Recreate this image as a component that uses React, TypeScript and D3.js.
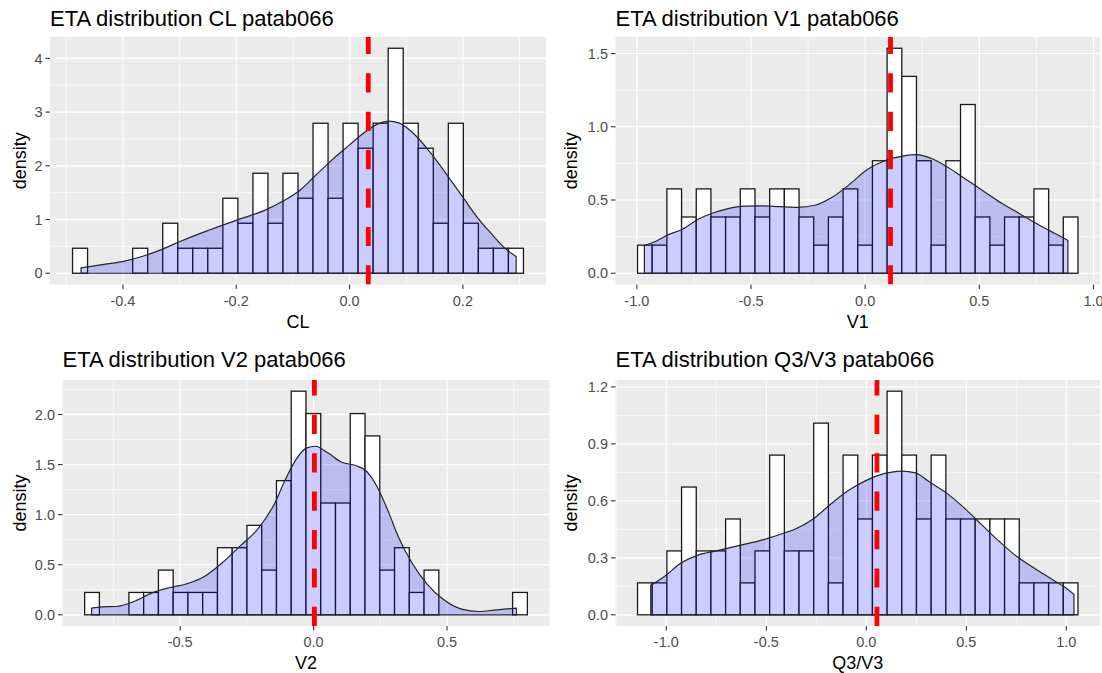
import React from "react";
import * as d3 from "d3";

// Number of subjects behind every histogram (density = count / (n * binwidth)).
const SAMPLE_SIZE = 81;

// ---- ETA CL ----
const clCounts = [1, 0, 0, 0, 1, 0, 2, 1, 1, 1, 3, 2, 4, 2, 4, 3, 6, 3, 6, 5, 6, 9, 6, 5, 2, 6, 2, 1, 1, 1];
const clBinStart = -0.489;
const clBinWidth = 0.02653;
const clMean = 0.033;
const clDensity: [number, number][] = [
  [-0.474, 0.1], [-0.436, 0.16], [-0.399, 0.22], [-0.361, 0.33], [-0.33, 0.45], [-0.293, 0.62],
  [-0.249, 0.8], [-0.199, 0.99], [-0.15, 1.17], [-0.118, 1.34], [-0.087, 1.55], [-0.062, 1.8],
  [-0.031, 2.11], [0.0, 2.39], [0.025, 2.61], [0.05, 2.78], [0.069, 2.83], [0.087, 2.8],
  [0.112, 2.61], [0.143, 2.24], [0.174, 1.8], [0.199, 1.43], [0.224, 1.06], [0.249, 0.75],
  [0.274, 0.47], [0.294, 0.31],
];
const clXTicks = [-0.4, -0.2, 0, 0.2];
const clXLabels = ["-0.4", "-0.2", "0.0", "0.2"];
const clYTicks = [0, 1, 2, 3, 4];
const clYLabels = ["0", "1", "2", "3", "4"];

// ---- ETA V1 ----
const v1Counts = [1, 1, 3, 2, 3, 2, 2, 3, 2, 3, 3, 2, 1, 2, 3, 1, 4, 8, 7, 4, 1, 4, 6, 2, 1, 2, 2, 3, 1, 2];
const v1BinStart = -0.997;
const v1BinWidth = 0.0643;
const v1Mean = 0.111;
const v1Density: [number, number][] = [
  [-0.967, 0.19], [-0.914, 0.22], [-0.867, 0.26], [-0.8, 0.3], [-0.73, 0.37], [-0.67, 0.41],
  [-0.604, 0.44], [-0.528, 0.458], [-0.451, 0.46], [-0.374, 0.455], [-0.297, 0.45],
  [-0.22, 0.464], [-0.143, 0.52], [-0.066, 0.61], [0.011, 0.71], [0.088, 0.77], [0.165, 0.8],
  [0.226, 0.81], [0.288, 0.785], [0.365, 0.72], [0.442, 0.64], [0.519, 0.56], [0.596, 0.48],
  [0.673, 0.41], [0.75, 0.34], [0.827, 0.275], [0.888, 0.225],
];
const v1XTicks = [-1, -0.5, 0, 0.5, 1];
const v1XLabels = ["-1.0", "-0.5", "0.0", "0.5", "1.0"];
const v1YTicks = [0, 0.5, 1, 1.5];
const v1YLabels = ["0.0", "0.5", "1.0", "1.5"];

// ---- ETA V2 ----
const v2Counts = [1, 0, 0, 1, 1, 2, 1, 1, 1, 3, 3, 4, 2, 6, 10, 9, 5, 5, 9, 8, 2, 3, 1, 2, 0, 0, 0, 0, 0, 1];
const v2BinStart = -0.858;
const v2BinWidth = 0.0553;
const v2Mean = 0.003;
const v2Density: [number, number][] = [
  [-0.832, 0.067], [-0.792, 0.08], [-0.739, 0.083], [-0.673, 0.133], [-0.607, 0.217],
  [-0.541, 0.27], [-0.475, 0.31], [-0.409, 0.383], [-0.343, 0.517], [-0.277, 0.683],
  [-0.211, 0.85], [-0.145, 1.117], [-0.106, 1.35], [-0.066, 1.55], [-0.026, 1.667],
  [0.007, 1.683], [0.053, 1.617], [0.106, 1.523], [0.158, 1.49], [0.198, 1.433],
  [0.237, 1.283], [0.277, 1.05], [0.317, 0.783], [0.369, 0.517], [0.422, 0.317],
  [0.488, 0.15], [0.554, 0.057], [0.62, 0.033], [0.686, 0.05], [0.76, 0.067],
];
const v2XTicks = [-0.5, 0, 0.5];
const v2XLabels = ["-0.5", "0.0", "0.5"];
const v2YTicks = [0, 0.5, 1, 1.5, 2];
const v2YLabels = ["0.0", "0.5", "1.0", "1.5", "2.0"];

// ---- ETA Q3/V3 ----
const q3Counts = [1, 1, 2, 4, 2, 2, 3, 1, 2, 5, 2, 2, 6, 1, 5, 3, 5, 7, 5, 3, 5, 3, 3, 3, 3, 3, 1, 1, 1, 1];
const q3BinStart = -1.144;
const q3BinWidth = 0.0734;
const q3Mean = 0.053;
const q3Density: [number, number][] = [
  [-1.078, 0.155], [-1.003, 0.207], [-0.932, 0.269], [-0.844, 0.313], [-0.739, 0.339],
  [-0.633, 0.366], [-0.528, 0.392], [-0.422, 0.427], [-0.352, 0.453], [-0.264, 0.506],
  [-0.176, 0.585], [-0.088, 0.656], [0.0, 0.708], [0.088, 0.743], [0.176, 0.757],
  [0.246, 0.747], [0.317, 0.699], [0.405, 0.638], [0.493, 0.559], [0.58, 0.471],
  [0.668, 0.383], [0.756, 0.304], [0.844, 0.243], [0.932, 0.185], [1.003, 0.137],
  [1.038, 0.107],
];
const q3XTicks = [-1, -0.5, 0, 0.5, 1];
const q3XLabels = ["-1.0", "-0.5", "0.0", "0.5", "1.0"];
const q3YTicks = [0, 0.3, 0.6, 0.9, 1.2];
const q3YLabels = ["0.0", "0.3", "0.6", "0.9", "1.2"];

type PanelData = {
  id: string;
  title: string;
  xTitle: string;
  counts: number[];
  binStart: number;
  binWidth: number;
  mean: number;
  density: [number, number][];
  xTicks: number[];
  xLabels: string[];
  yTicks: number[];
  yLabels: string[];
};

type Box = { plotX: number; left: number; right: number; top: number; bottom: number; titleY: number };

const panels: { data: PanelData; box: Box }[] = [
  {
    data: {
      id: "cl", title: "ETA distribution CL patab066", xTitle: "CL",
      counts: clCounts, binStart: clBinStart, binWidth: clBinWidth, mean: clMean, density: clDensity,
      xTicks: clXTicks, xLabels: clXLabels, yTicks: clYTicks, yLabels: clYLabels,
    },
    box: { plotX: 0, left: 50, right: 546, top: 37, bottom: 284.5, titleY: 26 },
  },
  {
    data: {
      id: "v1", title: "ETA distribution V1 patab066", xTitle: "V1",
      counts: v1Counts, binStart: v1BinStart, binWidth: v1BinWidth, mean: v1Mean, density: v1Density,
      xTicks: v1XTicks, xLabels: v1XLabels, yTicks: v1YTicks, yLabels: v1YLabels,
    },
    box: { plotX: 551, left: 615.5, right: 1100, top: 37, bottom: 284.5, titleY: 26 },
  },
  {
    data: {
      id: "v2", title: "ETA distribution V2 patab066", xTitle: "V2",
      counts: v2Counts, binStart: v2BinStart, binWidth: v2BinWidth, mean: v2Mean, density: v2Density,
      xTicks: v2XTicks, xLabels: v2XLabels, yTicks: v2YTicks, yLabels: v2YLabels,
    },
    box: { plotX: 0, left: 62.5, right: 549.5, top: 380, bottom: 626, titleY: 366.5 },
  },
  {
    data: {
      id: "q3", title: "ETA distribution Q3/V3 patab066", xTitle: "Q3/V3",
      counts: q3Counts, binStart: q3BinStart, binWidth: q3BinWidth, mean: q3Mean, density: q3Density,
      xTicks: q3XTicks, xLabels: q3XLabels, yTicks: q3YTicks, yLabels: q3YLabels,
    },
    box: { plotX: 551, left: 615.5, right: 1100, top: 380, bottom: 626, titleY: 366.5 },
  },
];

const FONT = "'Liberation Sans', Arial, Helvetica, sans-serif";

// Minor breaks sit halfway between majors, extended one half-step past each end when inside the limits.
function minorBreaks(major: number[], domain: number[]): number[] {
  const step = major[1] - major[0];
  const out: number[] = [];
  const first = major[0] - step / 2;
  if (first >= domain[0]) out.push(first);
  for (let i = 0; i < major.length - 1; i++) out.push((major[i] + major[i + 1]) / 2);
  const last = major[major.length - 1] + step / 2;
  if (last <= domain[1]) out.push(last);
  return out;
}

function Panel({ data, box }: { data: PanelData; box: Box }) {
  const bins = data.counts.map((c, i) => ({
    x0: data.binStart + i * data.binWidth,
    x1: data.binStart + (i + 1) * data.binWidth,
    density: c / (SAMPLE_SIZE * data.binWidth),
  }));
  const lo = bins[0].x0;
  const hi = bins[bins.length - 1].x1;
  const padX = (hi - lo) * 0.05;
  const x = d3.scaleLinear().domain([lo - padX, hi + padX]).range([box.left, box.right]);
  const ymax = Math.max(d3.max(bins, (b) => b.density) as number, d3.max(data.density, (d) => d[1]) as number);
  const y = d3.scaleLinear().domain([-0.05 * ymax, ymax * 1.05]).range([box.bottom, box.top]);

  const xMinor = minorBreaks(data.xTicks, x.domain());
  const yMinor = minorBreaks(data.yTicks, y.domain());

  const area = d3
    .area<[number, number]>()
    .x((d) => x(d[0]))
    .y0(y(0))
    .y1((d) => y(d[1]))
    .curve(d3.curveMonotoneX);

  const clipId = `clip-${data.id}`;
  const midX = (box.left + box.right) / 2;
  const midY = (box.top + box.bottom) / 2;
  const xm = x(data.mean);

  return (
    <g>
      <defs>
        <clipPath id={clipId}>
          <rect x={box.left} y={box.top} width={box.right - box.left} height={box.bottom - box.top} />
        </clipPath>
      </defs>
      <rect x={box.left} y={box.top} width={box.right - box.left} height={box.bottom - box.top} fill="#EBEBEB" />
      <g clipPath={`url(#${clipId})`}>
        {xMinor.map((v) => (
          <line key={`xm${v}`} x1={x(v)} x2={x(v)} y1={box.top} y2={box.bottom} stroke="#fff" strokeWidth={0.6} />
        ))}
        {yMinor.map((v) => (
          <line key={`ym${v}`} x1={box.left} x2={box.right} y1={y(v)} y2={y(v)} stroke="#fff" strokeWidth={0.6} />
        ))}
        {data.xTicks.map((v) => (
          <line key={`xM${v}`} x1={x(v)} x2={x(v)} y1={box.top} y2={box.bottom} stroke="#fff" strokeWidth={1.2} />
        ))}
        {data.yTicks.map((v) => (
          <line key={`yM${v}`} x1={box.left} x2={box.right} y1={y(v)} y2={y(v)} stroke="#fff" strokeWidth={1.2} />
        ))}
        {bins
          .filter((b) => b.density > 0)
          .map((b, i) => (
            <rect
              key={`b${i}`}
              x={x(b.x0)}
              y={y(b.density)}
              width={x(b.x1) - x(b.x0)}
              height={y(0) - y(b.density)}
              fill="#fff"
              stroke="#1a1a1a"
              strokeWidth={1.3}
            />
          ))}
        <path d={area(data.density) || ""} fill="#0000FF" fillOpacity={0.2} stroke="#262626" strokeWidth={1.2} />
        <line
          x1={xm}
          x2={xm}
          y1={box.bottom}
          y2={box.top}
          stroke="#FF0000"
          strokeWidth={4.8}
          strokeDasharray="19.2 19.2"
        />
      </g>
      {/* x axis */}
      {data.xTicks.map((v, i) => (
        <g key={`xt${v}`}>
          <line x1={x(v)} x2={x(v)} y1={box.bottom} y2={box.bottom + 4.5} stroke="#333" strokeWidth={1.1} />
          <text x={x(v)} y={box.bottom + 21} textAnchor="middle" fontSize={14.5} fill="#4D4D4D" fontFamily={FONT}>
            {data.xLabels[i]}
          </text>
        </g>
      ))}
      {/* y axis */}
      {data.yTicks.map((v, i) => (
        <g key={`yt${v}`}>
          <line x1={box.left - 4.5} x2={box.left} y1={y(v)} y2={y(v)} stroke="#333" strokeWidth={1.1} />
          <text
            x={box.left - 7.5}
            y={y(v)}
            dy="0.36em"
            textAnchor="end"
            fontSize={14.5}
            fill="#4D4D4D"
            fontFamily={FONT}
          >
            {data.yLabels[i]}
          </text>
        </g>
      ))}
      <text x={midX} y={box.bottom + 43} textAnchor="middle" fontSize={18} fill="#000" fontFamily={FONT}>
        {data.xTitle}
      </text>
      <text
        transform={`translate(${box.plotX + 20.5},${midY}) rotate(-90)`}
        dy="0.3em"
        textAnchor="middle"
        fontSize={18}
        fill="#000"
        fontFamily={FONT}
      >
        density
      </text>
      <text x={box.left} y={box.titleY} fontSize={22} fill="#000" fontFamily={FONT}>
        {data.title}
      </text>
    </g>
  );
}

export default function App() {
  return (
    <svg
      width={1102}
      height={673}
      viewBox="0 0 1102 673"
      style={{ position: "absolute", left: 0, top: 0, display: "block", background: "#fff" }}
    >
      <rect x={0} y={0} width={1102} height={673} fill="#fff" />
      {panels.map((p) => (
        <Panel key={p.data.id} data={p.data} box={p.box} />
      ))}
    </svg>
  );
}
